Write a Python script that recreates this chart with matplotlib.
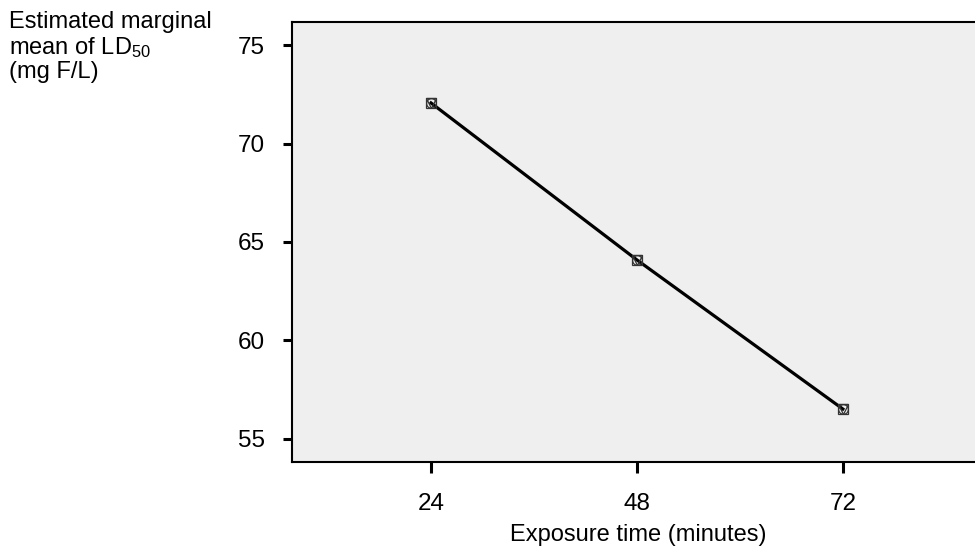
import matplotlib
matplotlib.use("Agg")
import matplotlib.pyplot as plt

plt.rcParams['font.family'] = ['Liberation Sans', 'DejaVu Sans']
plt.rcParams['mathtext.fontset'] = 'custom'
plt.rcParams['mathtext.rm'] = 'Liberation Sans'
plt.rcParams['mathtext.it'] = 'Liberation Sans'

exposure = [24, 48, 72]
ld50 = [72.06, 64.09, 56.52]
x_ticks = [24, 48, 72]
y_ticks = [55, 60, 65, 70, 75]
ylabel_lines = ['Estimated marginal', 'mean of LD$_{50}$', '(mg F/L)']

W, H = 975, 550
fig = plt.figure(figsize=(W / 100, H / 100), dpi=100)
ax = fig.add_axes([292 / W, 1 - 462 / H, (W - 292) / W + 0.01, (462 - 22) / H])
ax.set_facecolor('#efefef')

ax.plot(exposure, ld50, color='black', lw=2.3, zorder=2)
for m in ['s', 'v', 'o']:
    ax.plot(exposure, ld50, linestyle='none', marker=m, markersize=7,
            markerfacecolor='none', markeredgecolor='#333333', markeredgewidth=0.9, zorder=3)

ax.set_xlim(7.8, 87.4 + 24 * 0.01 * W / 206)
ax.set_ylim(53.83, 76.17)
ax.set_xticks(x_ticks)
ax.set_yticks(y_ticks)
ax.tick_params(axis='both', direction='out', width=2.2, labelsize=17.5)
ax.tick_params(axis='x', length=8, pad=14.5)
ax.tick_params(axis='y', length=6.5, pad=13)
for s in ['left', 'bottom', 'top']:
    ax.spines[s].set_linewidth(1.5)
ax.spines['right'].set_visible(False)

ax.set_xlabel('Exposure time (minutes)', fontsize=17, labelpad=6.5)
for i, yb in enumerate([28, 54.5, 78]):
    fig.text(9 / W, 1 - yb / H, ylabel_lines[i], fontsize=17, va='baseline', ha='left')

fig.savefig('out.png', dpi=100)
